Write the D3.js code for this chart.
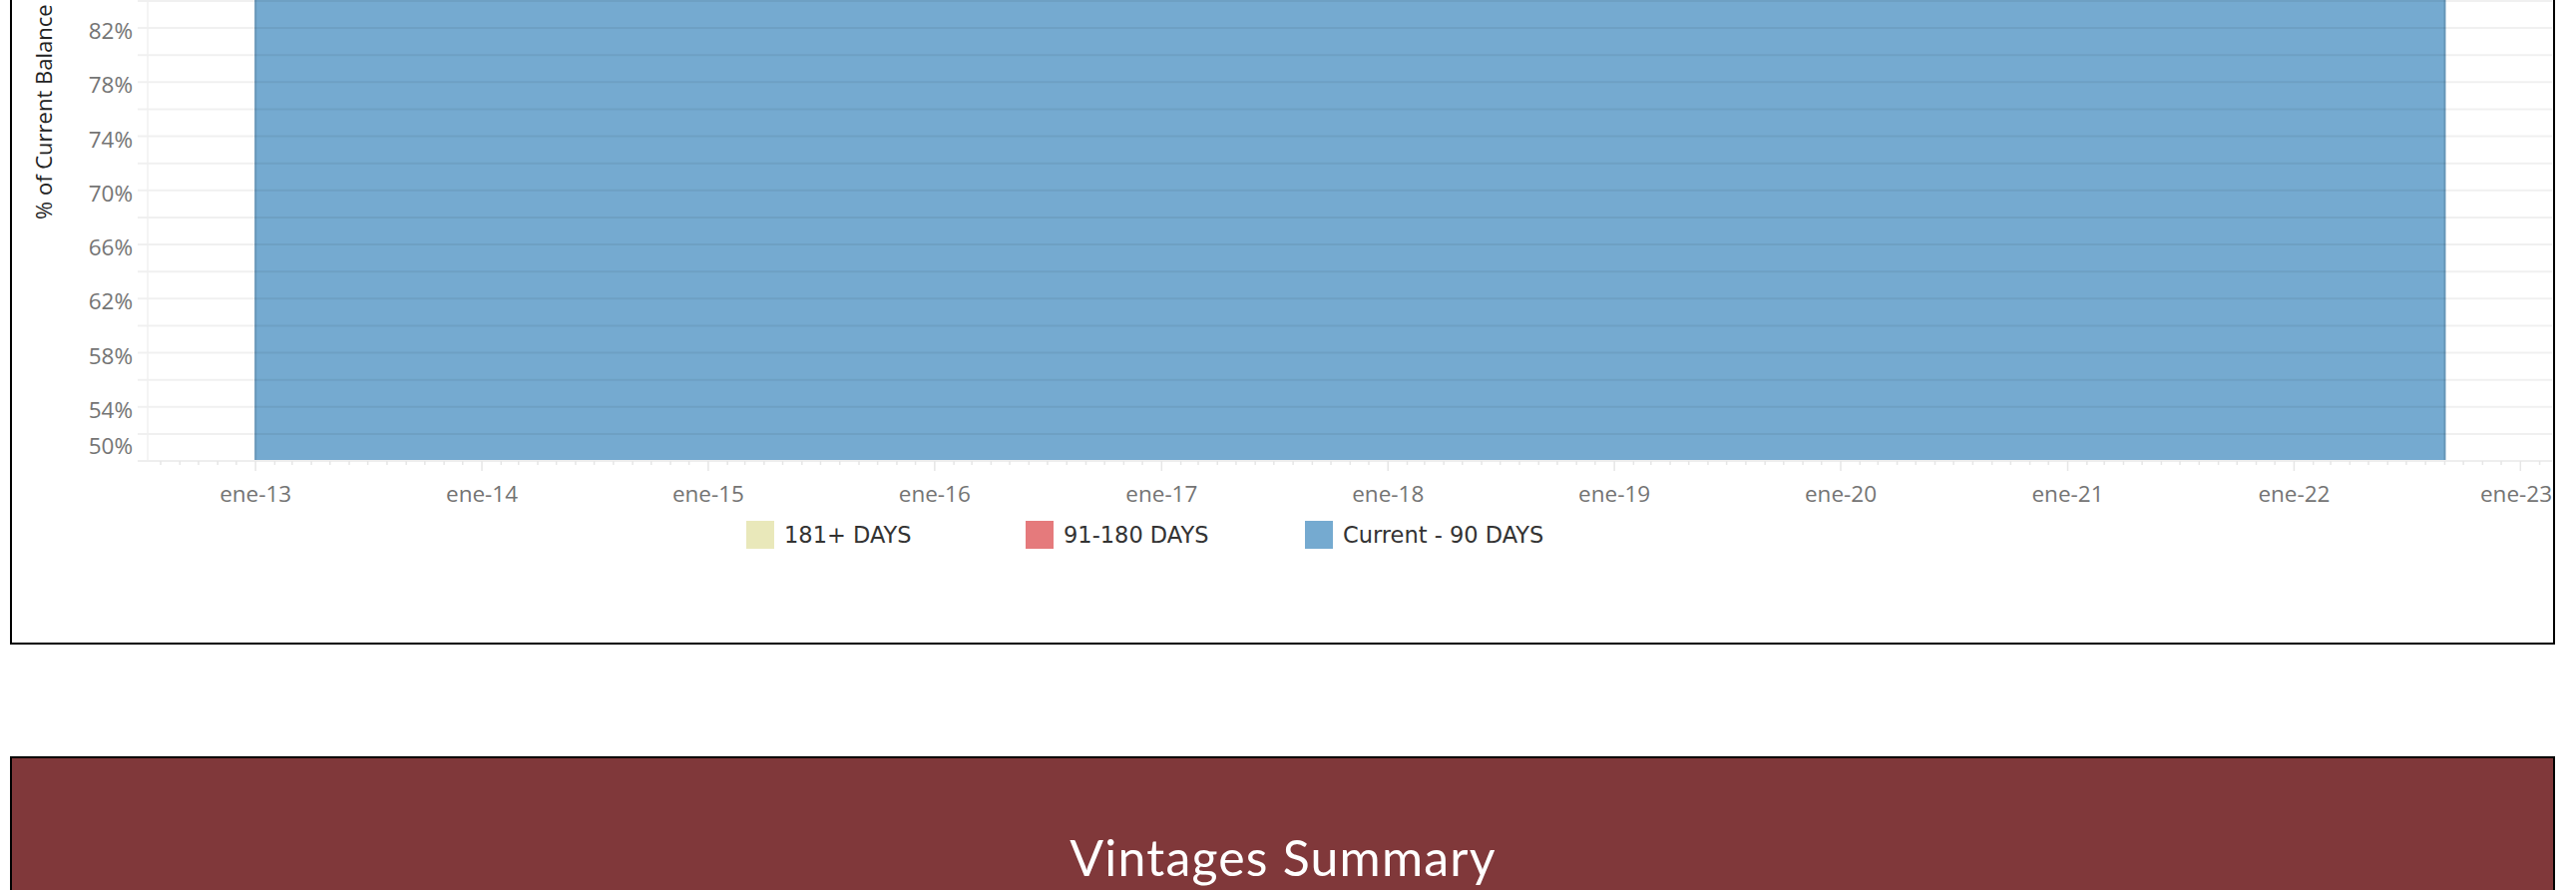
<!DOCTYPE html>
<html>
<head>
<meta charset="utf-8">
<script src="https://cdn.jsdelivr.net/npm/d3@7"></script>
<style>
  html, body { margin: 0; padding: 0; background: #fff; overflow: hidden; }
  svg { display: block; }
</style>
</head>
<body>
<svg id="chart" width="2582" height="892"></svg>
<script>
// monthly vintages shown as a 100% stacked area (only the lower part is on screen)
const months = ["2013-01-01", "2014-01-01", "2015-01-01", "2016-01-01", "2017-01-01", "2018-01-01",
  "2019-01-01", "2020-01-01", "2021-01-01", "2022-01-01", "2022-09-01"];
const current90 = [0.955, 0.962, 0.958, 0.951, 0.947, 0.944, 0.939, 0.930, 0.946, 0.952, 0.949];
const days91to180 = [0.027, 0.022, 0.024, 0.028, 0.030, 0.031, 0.033, 0.038, 0.029, 0.026, 0.027];
const days181plus = [0.018, 0.016, 0.018, 0.021, 0.023, 0.025, 0.028, 0.032, 0.025, 0.022, 0.024];

const seriesKeys = ["current", "d91", "d181"];
const legendNames = ["181+ DAYS", "91-180 DAYS", "Current - 90 DAYS"];
const legendColors = ["#e9e8ba", "#e57a7c", "#75aad0"];
const seriesColors = { current: "#75aad0", d91: "#e57a7c", d181: "#e9e8ba" };

const yGridTicks = [0.50, 0.52, 0.54, 0.56, 0.58, 0.60, 0.62, 0.64, 0.66, 0.68, 0.70, 0.72, 0.74,
  0.76, 0.78, 0.80, 0.82, 0.84, 0.86, 0.88, 0.90, 0.92, 0.94, 0.96, 0.98, 1.00];
const yLabelTicks = [0.50, 0.54, 0.58, 0.62, 0.66, 0.70, 0.74, 0.78, 0.82, 0.86, 0.90, 0.94, 0.98];
const xYearTicks = ["2013-01-01", "2014-01-01", "2015-01-01", "2016-01-01", "2017-01-01", "2018-01-01",
  "2019-01-01", "2020-01-01", "2021-01-01", "2022-01-01", "2023-01-01"];

const titleText = "Vintages Summary";
const yTitle = "% of Current Balance";

const svg = d3.select("#chart");

const pane = { left: 148, right: 2558, bottom: 462 };

const es = d3.timeFormatLocale({
  dateTime: "%x, %X", date: "%d/%m/%Y", time: "%-H:%M:%S", periods: ["AM", "PM"],
  days: ["domingo", "lunes", "martes", "miércoles", "jueves", "viernes", "sábado"],
  shortDays: ["dom", "lun", "mar", "mié", "jue", "vie", "sáb"],
  months: ["enero", "febrero", "marzo", "abril", "mayo", "junio", "julio", "agosto", "septiembre", "octubre", "noviembre", "diciembre"],
  shortMonths: ["ene", "feb", "mar", "abr", "may", "jun", "jul", "ago", "sep", "oct", "nov", "dic"]
});
const fmtTick = es.utcFormat("%b-%y");

const parse = d3.utcParse("%Y-%m-%d");
const rows = months.map((m, i) => ({
  date: parse(m), current: current90[i], d91: days91to180[i], d181: days181plus[i]
}));

const x = d3.scaleUtc()
  .domain([parse("2012-07-11"), parse("2023-02-21")])
  .range([pane.left, pane.right]);

// 50% sits on the bottom rule, the upper part of the axis is cut off by the page
const y = d3.scaleLinear()
  .domain([0.5, 1.0])
  .range([pane.bottom, pane.bottom - 50 * 13.56]);

// outer frame of the chart sheet
svg.append("rect")
  .attr("x", 11).attr("y", -20)
  .attr("width", 2549).attr("height", 665)
  .attr("fill", "#fff").attr("stroke", "#000").attr("stroke-width", 2);

svg.append("defs").append("clipPath").attr("id", "pane-clip")
  .append("rect")
  .attr("x", pane.left).attr("y", -400)
  .attr("width", pane.right - pane.left).attr("height", pane.bottom + 400);

const stacked = d3.stack().keys(seriesKeys)(rows);

const area = d3.area()
  .x(d => x(d.data.date))
  .y0(d => y(d[0]))
  .y1(d => y(d[1]));

svg.append("g")
  .attr("clip-path", "url(#pane-clip)")
  .selectAll("path")
  .data(stacked)
  .enter().append("path")
  .attr("d", area)
  .attr("fill", d => seriesColors[d.key])
  .attr("stroke", d => d3.color(seriesColors[d.key]).darker(0.35))
  .attr("stroke-width", 2);

// gridlines + y ticks (drawn over the area, Tableau style)
svg.append("g")
  .selectAll("line")
  .data(yGridTicks.filter(v => v > 0.5))
  .enter().append("line")
  .attr("x1", 138).attr("x2", pane.right)
  .attr("y1", d => y(d)).attr("y2", d => y(d))
  .attr("stroke", "#000").attr("stroke-opacity", 0.058).attr("stroke-width", 2);

// axis rulers
svg.append("line")
  .attr("x1", pane.left).attr("x2", pane.left)
  .attr("y1", -10).attr("y2", pane.bottom)
  .attr("stroke", "#f0f0f0").attr("stroke-width", 1.5);
svg.append("line")
  .attr("x1", 138).attr("x2", pane.right)
  .attr("y1", pane.bottom).attr("y2", pane.bottom)
  .attr("stroke", "#eeeeee").attr("stroke-width", 2);

// y labels (only the ones that land on the page)
svg.append("g")
  .selectAll("text")
  .data(yLabelTicks.filter(v => y(v) > 12))
  .enter().append("text")
  .attr("x", 133)
  .attr("y", d => Math.min(y(d) + 11, pane.bottom - 7))
  .attr("text-anchor", "end")
  .attr("font-family", "Open Sans")
  .attr("font-size", 22.5)
  .attr("fill", "#747474")
  .text(d => d3.format(".0%")(d));

svg.append("text")
  .attr("transform", "translate(52,220) rotate(-90)")
  .attr("text-anchor", "start")
  .attr("font-family", "Open Sans")
  .attr("font-size", 22)
  .attr("fill", "#222")
  .text(yTitle);

// x axis: monthly ticks, yearly labels
const monthTicks = d3.utcMonth.range(x.domain()[0], x.domain()[1]);
svg.append("g")
  .selectAll("line")
  .data(monthTicks)
  .enter().append("line")
  .attr("x1", d => x(d)).attr("x2", d => x(d))
  .attr("y1", pane.bottom)
  .attr("y2", d => d.getUTCMonth() === 0 ? pane.bottom + 10 : pane.bottom + 4)
  .attr("stroke", "#e6e6e6").attr("stroke-width", 1.5);

const xLabels = svg.append("g")
  .selectAll("text")
  .data(xYearTicks.map(parse))
  .enter().append("text")
  .attr("x", d => x(d))
  .attr("y", 503)
  .attr("text-anchor", "middle")
  .attr("font-family", "Open Sans")
  .attr("font-size", 22.5)
  .attr("fill", "#747474")
  .text(d => fmtTick(d));

// keep the last label inside the pane
xLabels.each(function(d) {
  const w = this.getComputedTextLength();
  const cx = Math.min(x(d), pane.right - w / 2);
  d3.select(this).attr("x", cx);
});

// legend
const legend = svg.append("g")
  .selectAll("g")
  .data(legendNames)
  .enter().append("g")
  .attr("transform", (d, i) => `translate(${748 + i * 280},522)`);

legend.append("rect")
  .attr("width", 28).attr("height", 28)
  .attr("fill", (d, i) => legendColors[i]);

legend.append("text")
  .attr("x", 38).attr("y", 22)
  .attr("font-family", "DejaVu Sans")
  .attr("font-size", 22.5)
  .attr("fill", "#333")
  .text(d => d);

// section banner below
svg.append("rect")
  .attr("x", 11).attr("y", 759)
  .attr("width", 2549).attr("height", 200)
  .attr("fill", "#80383a").attr("stroke", "#000").attr("stroke-width", 2);

svg.append("text")
  .attr("x", 1286).attr("y", 878)
  .attr("text-anchor", "middle")
  .attr("font-family", "Lato")
  .attr("font-size", 50)
  .attr("letter-spacing", 1.2)
  .attr("fill", "#fff")
  .text(titleText);
</script>
</body>
</html>
